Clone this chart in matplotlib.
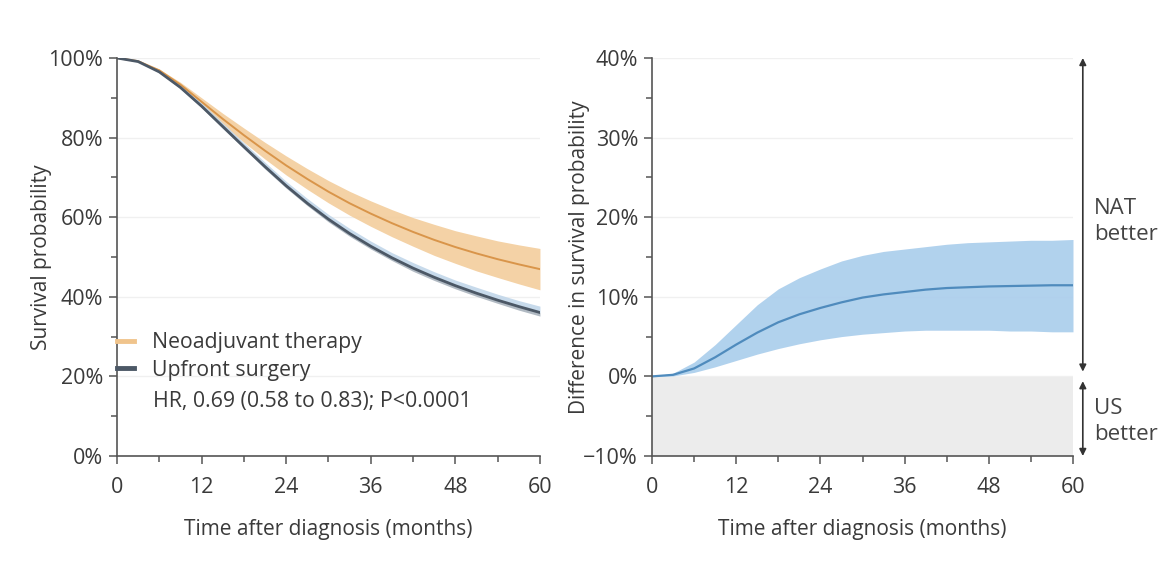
import matplotlib
matplotlib.use("Agg")
import matplotlib.pyplot as plt
from matplotlib.ticker import FuncFormatter, MultipleLocator
from matplotlib.lines import Line2D

plt.rcParams['font.family'] = ['Open Sans', 'DejaVu Sans']

# months after diagnosis
months = [0, 3, 6, 9, 12, 15, 18, 21, 24, 27, 30, 33, 36, 39, 42, 45, 48, 51, 54, 57, 60]

# survival (%) - neoadjuvant therapy
nat_mean = [100, 99.2, 96.9, 93.3, 89.0, 84.7, 80.6, 76.7, 73.0, 69.6, 66.4, 63.5, 60.9, 58.5, 56.3, 54.3, 52.5, 50.9, 49.45, 48.15, 46.95]
nat_low = [100, 99.1, 96.6, 92.7, 88.0, 83.3, 78.8, 74.6, 70.6, 67.0, 63.6, 60.5, 57.7, 55.1, 52.7, 50.4, 48.4, 46.5, 44.85, 43.25, 41.75]
nat_high = [100, 99.3, 97.2, 93.9, 90.0, 86.1, 82.4, 78.8, 75.4, 72.2, 69.2, 66.5, 64.1, 61.9, 59.9, 58.2, 56.6, 55.3, 54.05, 53.05, 52.15]

# survival (%) - upfront surgery
us_mean = [100, 99.1, 96.5, 92.6, 87.9, 82.8, 77.7, 72.7, 67.9, 63.5, 59.5, 55.9, 52.7, 49.8, 47.2, 44.9, 42.8, 40.9, 39.15, 37.55, 36.05]
us_low = [100, 99.0, 96.3, 92.3, 87.5, 82.3, 77.2, 72.1, 67.3, 62.9, 58.8, 55.2, 52.0, 49.1, 46.4, 44.1, 42.0, 40.1, 38.35, 36.65, 35.15]
us_high = [100, 99.3, 96.9, 93.2, 88.7, 83.7, 78.7, 73.8, 69.0, 64.7, 60.7, 57.2, 54.0, 51.1, 48.6, 46.3, 44.2, 42.4, 40.65, 39.05, 37.65]

# difference in survival (%)
diff_mean = [0, 0.2, 1.0, 2.4, 4.0, 5.5, 6.8, 7.8, 8.6, 9.3, 9.9, 10.3, 10.6, 10.9, 11.1, 11.2, 11.3, 11.35, 11.4, 11.45, 11.45]
diff_low = [0, 0.05, 0.5, 1.2, 2.0, 2.8, 3.5, 4.1, 4.6, 5.0, 5.3, 5.5, 5.7, 5.8, 5.8, 5.8, 5.8, 5.7, 5.7, 5.6, 5.6]
diff_high = [0, 0.4, 1.8, 4.0, 6.5, 9.0, 11.0, 12.4, 13.5, 14.5, 15.2, 15.7, 16.0, 16.3, 16.6, 16.8, 16.9, 17.0, 17.1, 17.1, 17.2]

txt = '#3a3a3a'
spine_c = '#555555'
pct = FuncFormatter(lambda v, p: ('\u2212' if v < 0 else '') + f"{abs(v):.0f}%")

fig = plt.figure(figsize=(11.71, 5.77), dpi=100)
ax1 = fig.add_axes([0.0999, 0.2097, 0.3612, 0.6898])
ax2 = fig.add_axes([0.5568, 0.2097, 0.3595, 0.6898])


def style(ax, ylim, ymaj, ymin):
    ax.set_xlim(0, 60)
    ax.set_ylim(*ylim)
    ax.xaxis.set_major_locator(MultipleLocator(12))
    ax.xaxis.set_minor_locator(MultipleLocator(6))
    ax.yaxis.set_major_locator(MultipleLocator(ymaj))
    ax.yaxis.set_minor_locator(MultipleLocator(ymin))
    ax.yaxis.set_major_formatter(pct)
    for s in ['top', 'right']:
        ax.spines[s].set_visible(False)
    for s in ['left', 'bottom']:
        ax.spines[s].set_color(spine_c)
        ax.spines[s].set_linewidth(1.2)
    ax.tick_params(which='both', direction='out', color=spine_c, width=1.1, labelcolor=txt, labelsize=15.5)
    ax.tick_params(which='major', length=6)
    ax.tick_params(which='minor', length=4)
    ax.tick_params(axis='x', pad=9)
    ax.tick_params(axis='y', pad=4)
    ax.grid(axis='y', which='major', color='#f0f0f0', linewidth=1)
    ax.set_axisbelow(True)
    ax.set_xlabel('Time after diagnosis (months)', fontsize=15, color=txt, labelpad=15)


# left panel
style(ax1, (0, 100), 20, 10)
ax1.fill_between(months, nat_low, nat_high, color='#f3cd9c', alpha=0.9, lw=0)
ax1.plot(months, nat_mean, color='#d9954a', lw=1.4)
# upfront surgery band: light blue above the line, greyer below
ax1.fill_between(months, us_mean, us_high, color='#c4d8ea', alpha=0.95, lw=0)
ax1.fill_between(months, us_low, us_mean, color='#a9b3bd', alpha=0.9, lw=0)
ax1.plot(months, us_mean, color='#4c5866', lw=2.0)
ax1.set_ylabel('Survival probability', fontsize=15, color=txt, labelpad=-3)

handles = [Line2D([], [], color='#f0c48c', lw=3.5), Line2D([], [], color='#4c5866', lw=3.5)]
ax1.legend(handles, ['Neoadjuvant therapy', 'Upfront surgery'], loc='center left',
           bbox_to_anchor=(0.0, 0.25), frameon=False, fontsize=15.3, handlelength=0.8,
           handletextpad=0.85, labelspacing=0.3, borderpad=0, borderaxespad=0, labelcolor=txt)
ax1.text(0.085, 0.138, 'HR, 0.69 (0.58 to 0.83); P<0.0001', transform=ax1.transAxes,
         fontsize=15.3, color=txt, va='center')

# right panel
style(ax2, (-10, 40), 10, 5)
ax2.fill_between([0, 60], [-10, -10], [0, 0], color='#ececec', lw=0, zorder=0.5)
ax2.fill_between(months, diff_low, diff_high, color='#a9cdec', alpha=0.9, lw=0)
ax2.plot(months, diff_mean, color='#4f8bbd', lw=1.6)
ax2.set_ylabel('Difference in survival probability', fontsize=15, color=txt, labelpad=-5)

arr = dict(arrowstyle='<|-|>', color='#333333', lw=1.2, mutation_scale=10, shrinkA=0, shrinkB=0)
ax2.annotate('', xy=(61.4, 40), xytext=(61.4, 0.6), arrowprops=arr, annotation_clip=False)
ax2.annotate('', xy=(61.4, -0.6), xytext=(61.4, -10), arrowprops=arr, annotation_clip=False)
ax2.text(63.0, 19.5, 'NAT\nbetter', fontsize=16, color='#444444', va='center', ha='left', linespacing=1.3)
ax2.text(63.0, -5.7, 'US\nbetter', fontsize=16, color='#444444', va='center', ha='left', linespacing=1.3)

plt.savefig('out.png', dpi=100)
